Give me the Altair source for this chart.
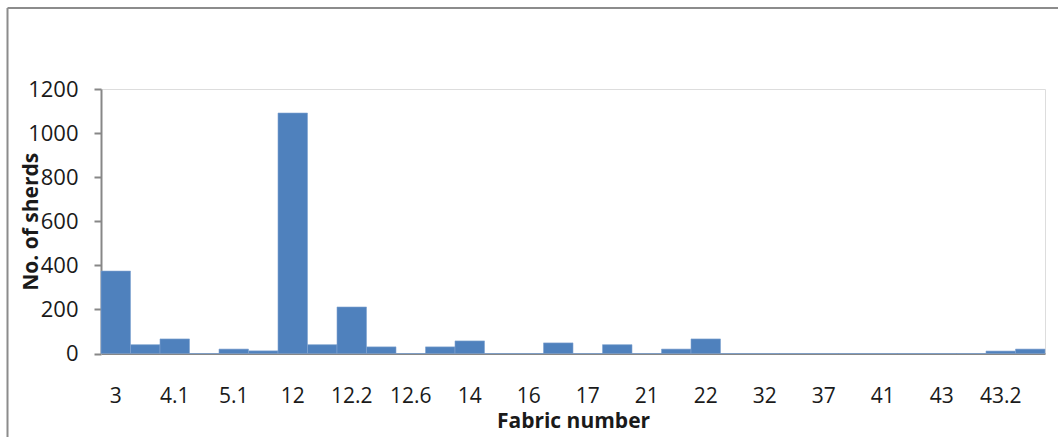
import altair as alt
import pandas as pd

# Fabric categories (every other one is labelled in the original chart)
fabric_labels = ["3", "", "4.1", "", "5.1", "", "12", "", "12.2", "", "12.6", "",
                 "14", "", "16", "", "17", "", "21", "", "22", "", "32", "",
                 "37", "", "41", "", "43", "", "43.2", ""]
sherds = [374, 40, 66, 0, 20, 12, 1091, 40, 211, 30, 0, 30,
          57, 0, 0, 48, 0, 40, 0, 20, 66, 0, 0, 0,
          0, 0, 0, 0, 0, 0, 11, 20]
y_ticks = [0, 200, 400, 600, 800, 1000, 1200]

df = pd.DataFrame({"i": list(range(len(sherds))), "fabric": fabric_labels, "n": sherds})

FONT = "Open Sans"
GRAY = "#878787"
label_expr = "[" + ",".join("'" + s + "'" for s in fabric_labels) + "][datum.value]"

W, H = 944, 264.5
PL, PT = 101, 89

bars = alt.Chart(df).mark_bar(color="#4F81BD", stroke="#7FA3D0", strokeWidth=0.6).encode(
    x=alt.X("i:O", sort=None,
            scale=alt.Scale(paddingInner=0, paddingOuter=0),
            axis=alt.Axis(title="Fabric number", labelExpr=label_expr, labelAngle=0,
                          ticks=False, domainColor=GRAY, domainWidth=2,
                          labelFont=FONT, labelFontSize=21, labelColor="#1a1a1a",
                          labelPadding=43, labelBaseline="middle",
                          titleFont=FONT, titleFontSize=21, titleFontWeight="bold",
                          titleColor="#1a1a1a", titleBaseline="middle",
                          titleY=67.5, titleX=W / 2, titleAlign="center")),
    y=alt.Y("n:Q", scale=alt.Scale(domain=[0, 1200], nice=False),
            axis=alt.Axis(title="No. of sherds", values=y_ticks, grid=False, format="d",
                          domainColor=GRAY, domainWidth=2, tickColor=GRAY, tickWidth=2,
                          tickSize=7, labelPadding=16, labelFont=FONT, labelFontSize=22,
                          labelColor="#1a1a1a",
                          titleFont=FONT, titleFontSize=21, titleFontWeight="bold",
                          titleColor="#1a1a1a", titleAngle=-90, titleX=-70,
                          titleY=H / 2, titleAlign="center", titleBaseline="middle")),
)

one = alt.Data(values=[{"a": 1}])
left_border = alt.Chart(one).mark_rule(color="#8c8c8c", strokeWidth=2).encode(
    x=alt.value(7.5 - PL), y=alt.value(8 - PT), y2=alt.value(437 - PT))
top_border = alt.Chart(one).mark_rule(color="#8c8c8c", strokeWidth=2).encode(
    y=alt.value(8 - PT), x=alt.value(7.5 - PL), x2=alt.value(1058 - PL))

chart = alt.layer(bars, left_border, top_border).properties(
    width=W, height=H,
    autosize=alt.AutoSizeParams(type="none"),
    padding={"left": PL, "top": PT, "right": 1058 - PL - W, "bottom": 437 - PT - H},
).configure_view(stroke=None).configure(background="white")

chart.save("out.html", embed_options={"renderer": "svg", "actions": False})
